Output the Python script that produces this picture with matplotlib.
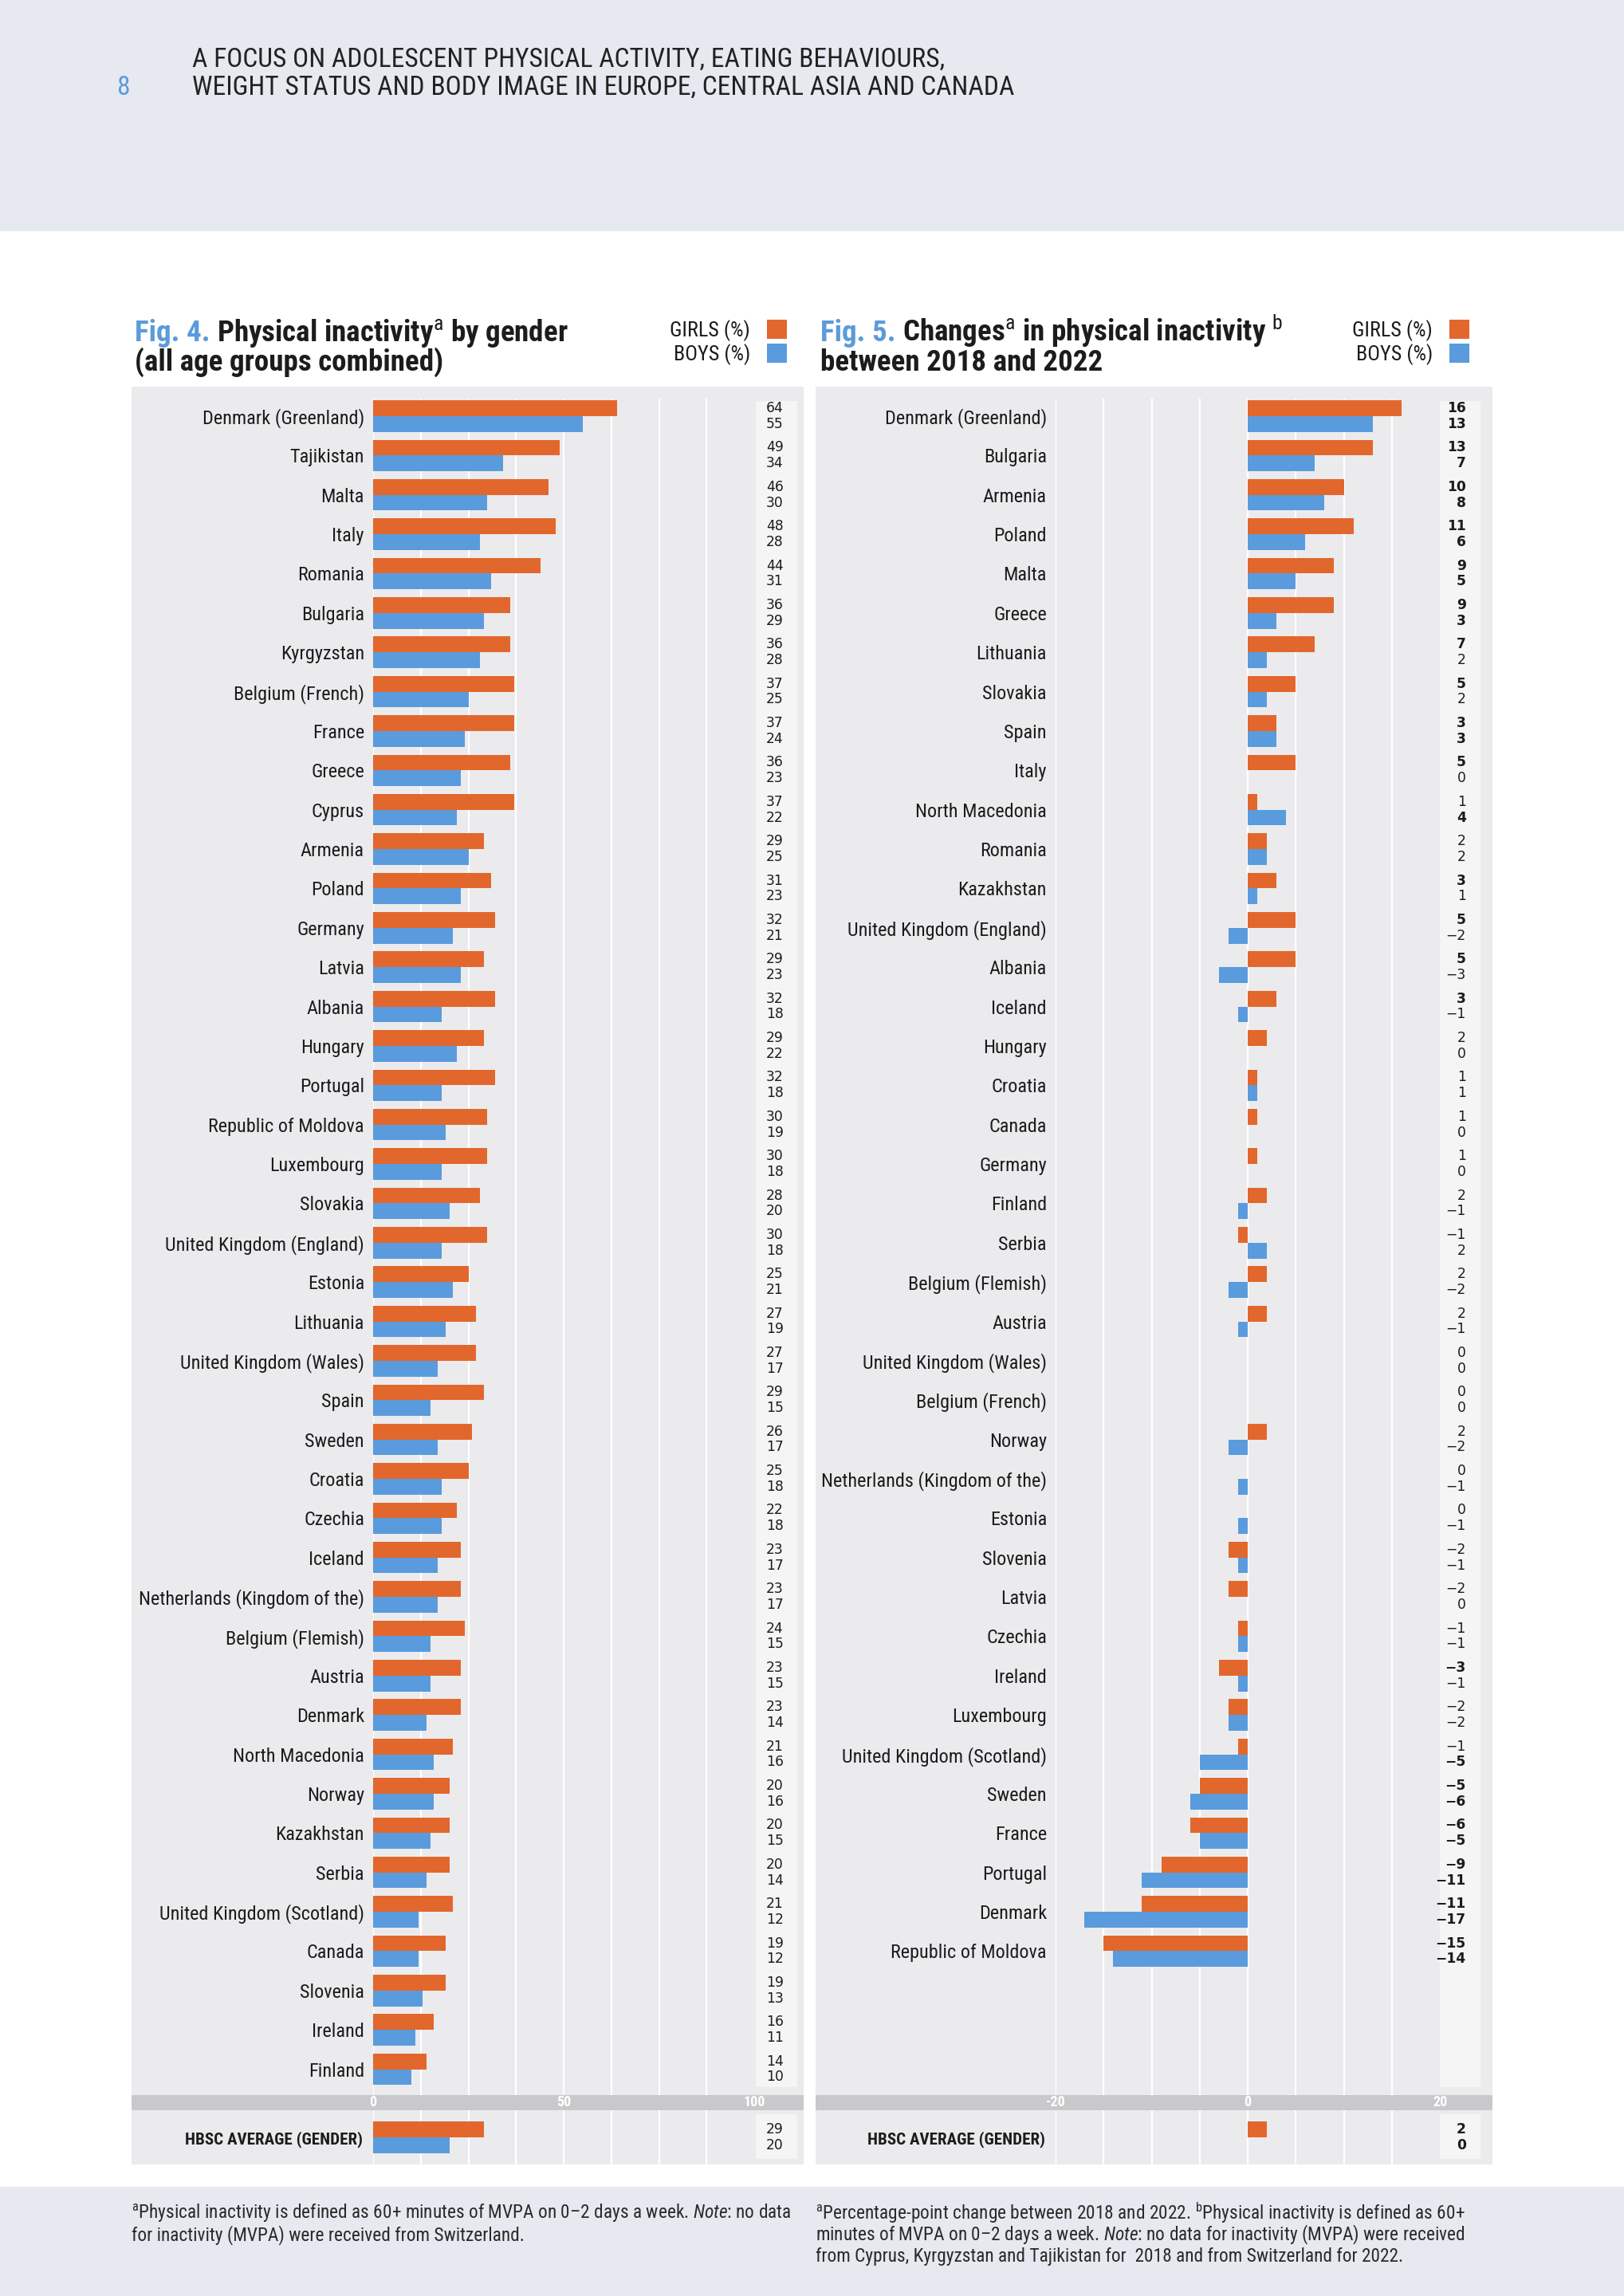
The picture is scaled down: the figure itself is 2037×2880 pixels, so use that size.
import numpy as np
import matplotlib.pyplot as plt
from matplotlib.patches import Rectangle
from matplotlib.transforms import blended_transform_factory
from matplotlib import font_manager as fm
from matplotlib.font_manager import FontProperties

W, H = 2037, 2880


def have(name):
    try:
        fm.findfont(name, fallback_to_default=False)
        return True
    except ValueError:
        return False


# narrowest family that is actually installed
COND = next((f for f in ['Liberation Sans Narrow', 'DejaVu Sans Condensed', 'Roboto Condensed',
                         'Lato', 'Roboto', 'Liberation Sans'] if have(f)), 'DejaVu Sans')
plt.rcParams['font.family'] = [COND, 'DejaVu Sans']
plt.rcParams['mathtext.fontset'] = 'custom'
plt.rcParams['mathtext.rm'] = COND
plt.rcParams['mathtext.it'] = COND + ':italic'
plt.rcParams['mathtext.bf'] = COND + ':bold'

ORANGE = '#e2672d'
BLUE = '#5a9bdd'
PANEL = '#ebebed'
BAND = '#c9c9cb'
VALBOX = '#f5f5f6'
PAGEBAND = '#e7e9f0'
TXT = '#1c1c1c'
FIGBLUE = '#5b9bd9'

# ---- Fig. 4 data: physical inactivity by gender (%)
countries4 = ['Denmark (Greenland)', 'Tajikistan', 'Malta', 'Italy', 'Romania', 'Bulgaria',
              'Kyrgyzstan', 'Belgium (French)', 'France', 'Greece', 'Cyprus', 'Armenia',
              'Poland', 'Germany', 'Latvia', 'Albania', 'Hungary', 'Portugal',
              'Republic of Moldova', 'Luxembourg', 'Slovakia', 'United Kingdom (England)',
              'Estonia', 'Lithuania', 'United Kingdom (Wales)', 'Spain', 'Sweden', 'Croatia',
              'Czechia', 'Iceland', 'Netherlands (Kingdom of the)', 'Belgium (Flemish)',
              'Austria', 'Denmark', 'North Macedonia', 'Norway', 'Kazakhstan', 'Serbia',
              'United Kingdom (Scotland)', 'Canada', 'Slovenia', 'Ireland', 'Finland']
girls4 = [64, 49, 46, 48, 44, 36, 36, 37, 37, 36, 37, 29, 31, 32, 29, 32, 29, 32, 30, 30,
          28, 30, 25, 27, 27, 29, 26, 25, 22, 23, 23, 24, 23, 23, 21, 20, 20, 20, 21, 19,
          19, 16, 14]
boys4 = [55, 34, 30, 28, 31, 29, 28, 25, 24, 23, 22, 25, 23, 21, 23, 18, 22, 18, 19, 18,
         20, 18, 21, 19, 17, 15, 17, 18, 18, 17, 17, 15, 15, 14, 16, 16, 15, 14, 12, 12,
         13, 11, 10]
avg4 = (29, 20)

# ---- Fig. 5 data: change 2018-2022 (percentage points), bold = significant
countries5 = ['Denmark (Greenland)', 'Bulgaria', 'Armenia', 'Poland', 'Malta', 'Greece',
              'Lithuania', 'Slovakia', 'Spain', 'Italy', 'North Macedonia', 'Romania',
              'Kazakhstan', 'United Kingdom (England)', 'Albania', 'Iceland', 'Hungary',
              'Croatia', 'Canada', 'Germany', 'Finland', 'Serbia', 'Belgium (Flemish)',
              'Austria', 'United Kingdom (Wales)', 'Belgium (French)', 'Norway',
              'Netherlands (Kingdom of the)', 'Estonia', 'Slovenia', 'Latvia', 'Czechia',
              'Ireland', 'Luxembourg', 'United Kingdom (Scotland)', 'Sweden', 'France',
              'Portugal', 'Denmark', 'Republic of Moldova']
girls5 = [16, 13, 10, 11, 9, 9, 7, 5, 3, 5, 1, 2, 3, 5, 5, 3, 2, 1, 1, 1, 2, -1, 2, 2,
          0, 0, 2, 0, 0, -2, -2, -1, -3, -2, -1, -5, -6, -9, -11, -15]
boys5 = [13, 7, 8, 6, 5, 3, 2, 2, 3, 0, 4, 2, 1, -2, -3, -1, 0, 1, 0, 0, -1, 2, -2, -1,
         0, 0, -2, -1, -1, -1, 0, -1, -1, -2, -5, -6, -5, -11, -17, -14]
girls5_bold = [1, 1, 1, 1, 1, 1, 1, 1, 1, 1, 0, 0, 1, 1, 1, 1, 0, 0, 0, 0, 0, 0, 0, 0,
               0, 0, 0, 0, 0, 0, 0, 0, 1, 0, 0, 1, 1, 1, 1, 1]
boys5_bold = [1, 1, 1, 1, 1, 1, 0, 0, 1, 0, 1, 0, 0, 0, 0, 0, 0, 0, 0, 0, 0, 0, 0, 0,
              0, 0, 0, 0, 0, 0, 0, 0, 0, 0, 1, 1, 1, 1, 1, 1]
avg5 = (2, 0)

fig = plt.figure(figsize=(W / 100, H / 100), dpi=100)
fig.patch.set_facecolor('white')
renderer = fig.canvas.get_renderer()


def fit(s, target, weight='normal'):
    """font size (pt) that makes s about target pixels wide"""
    prop = FontProperties(family=[COND, 'DejaVu Sans'], weight=weight, size=20)
    w, _, _ = renderer.get_text_width_height_descent(s, prop, ismath='$' in s)
    return 20 * target / w


def box(x0, y0, x1, y1, color):
    fig.patches.append(Rectangle((x0 / W, 1 - y1 / H), (x1 - x0) / W, (y1 - y0) / H,
                                 transform=fig.transFigure, facecolor=color,
                                 edgecolor='none', zorder=-5))


def ax_at(x0, y0, x1, y1):
    a = fig.add_axes([x0 / W, 1 - y1 / H, (x1 - x0) / W, (y1 - y0) / H])
    a.set_facecolor('none')
    for s in a.spines.values():
        s.set_visible(False)
    return a


def fmt(v):
    return str(v).replace('-', '\u2212')


ROW = 49.37
TOP, FIRST, BOTTOM = 500, 522, 2628
LAB = 1.03 * min(fit('Denmark (Greenland)', 200), fit('Netherlands (Kingdom of the)', 274))
AVGLAB = fit('HBSC AVERAGE (GENDER)', 222, 'bold')
VAL = 12.3


def panel(left, right, zx0, zx1, xlim, grid, ticks, names, g, b, gb, bb, avg, avg_bold,
          val_x, vbox):
    box(left, 485, right, BOTTOM, PANEL)
    box(left, BOTTOM, right, 2647, BAND)
    box(left, 2647, right, 2715, PANEL)
    box(vbox[0], 503, vbox[1], 2618, VALBOX)
    box(vbox[0], 2652, vbox[1], 2708, VALBOX)

    ax = ax_at(zx0, TOP, zx1, BOTTOM)
    y = np.arange(len(names))
    hg = ax.barh(y - 0.2, g, height=0.4, color=ORANGE, zorder=3)
    hb = ax.barh(y + 0.2, b, height=0.4, color=BLUE, zorder=3)
    ax.set_xlim(*xlim)
    ax.set_ylim((BOTTOM - FIRST) / ROW, -(FIRST - TOP) / ROW)
    ax.set_xticks(grid)
    ax.grid(axis='x', color='white', lw=1.6)
    ax.set_axisbelow(True)
    ax.tick_params(axis='x', length=0, labelbottom=False)
    ax.set_yticks(y, names, fontsize=LAB, color=TXT)
    ax.tick_params(axis='y', length=0, pad=8)
    tr = blended_transform_factory(ax.transAxes, ax.transData)
    for i in range(len(names)):
        ax.text(val_x, i - 0.2, fmt(g[i]), transform=tr, ha='right', va='center',
                fontsize=VAL, family='DejaVu Sans', color=TXT,
                fontweight='bold' if gb[i] else 'normal', clip_on=False)
        ax.text(val_x, i + 0.2, fmt(b[i]), transform=tr, ha='right', va='center',
                fontsize=VAL, family='DejaVu Sans', color=TXT,
                fontweight='bold' if bb[i] else 'normal', clip_on=False)

    # axis band with tick values
    axb = ax_at(zx0, BOTTOM, zx1, 2647)
    axb.set_xlim(*xlim)
    axb.set_xticks([])
    axb.set_yticks([])
    for t in ticks:
        axb.text(t, 0.5, str(t), transform=axb.get_xaxis_transform(), ha='center',
                 va='center', color='white', fontweight='bold', fontsize=13)

    # HBSC average row
    axa = ax_at(zx0, 2647, zx1, 2715)
    span = 68 / ROW
    axa.barh([-0.2], [avg[0]], height=0.4, color=ORANGE, zorder=3)
    axa.barh([0.2], [avg[1]], height=0.4, color=BLUE, zorder=3)
    axa.set_xlim(*xlim)
    axa.set_ylim(span / 2, -span / 2)
    axa.set_xticks(grid)
    axa.grid(axis='x', color='white', lw=1.6)
    axa.set_axisbelow(True)
    axa.tick_params(axis='x', length=0, labelbottom=False)
    axa.set_yticks([0], ['HBSC AVERAGE (GENDER)'], fontsize=AVGLAB, fontweight='bold',
                   color=TXT)
    axa.tick_params(axis='y', length=0, pad=9)
    tra = blended_transform_factory(axa.transAxes, axa.transData)
    for k, off in ((0, -0.2), (1, 0.2)):
        axa.text(val_x, off, fmt(avg[k]), transform=tra, ha='right', va='center',
                 fontsize=VAL, family='DejaVu Sans', color=TXT,
                 fontweight='bold' if avg_bold[k] else 'normal', clip_on=False)
    return hg, hb


h4 = panel(165, 1008, 468, 946, (0, 100), np.arange(0, 100, 12.5), [0, 50, 100],
           countries4, girls4, boys4, [0] * len(girls4), [0] * len(boys4), avg4, (0, 0),
           1.077, (948, 1000))
h5 = panel(1023, 1872, 1324, 1806, (-20, 20), np.arange(-20, 20, 5), [-20, 0, 20],
           countries5, girls5, boys5, girls5_bold, boys5_bold, avg5, (1, 1),
           1.068, (1806, 1857))

LEG = fit('GIRLS (%)', 101)
for (hg, hb), xr in ((h4, 987), (h5, 1843)):
    fig.legend([hg, hb], ['GIRLS (%)', 'BOYS (%)'], loc='upper right',
               bbox_to_anchor=(xr / W, 1 - 401 / H), markerfirst=False, frameon=False,
               fontsize=LEG, handlelength=25 / (LEG * 100 / 72),
               handleheight=27 / (LEG * 100 / 72), handletextpad=0.8,
               labelspacing=0.12, borderpad=0, borderaxespad=0, labelcolor=TXT)


def runs(x, y, parts, size):
    for txt, color in parts:
        t = fig.text(x / W, 1 - y / H, txt, fontsize=size, color=color,
                     fontweight='bold', va='baseline', ha='left')
        x += t.get_window_extent(renderer).width + size * 0.3


TITLE = fit(r'Fig. 4. Physical inactivity${}^{\mathrm{a}}$ by gender', 544, 'bold')
runs(169, 428, [('Fig. 4.', FIGBLUE), (r'Physical inactivity${}^{\mathrm{a}}$ by gender', TXT)], TITLE)
runs(169, 465, [('(all age groups combined)', TXT)], TITLE)
runs(1029, 428, [('Fig. 5.', FIGBLUE), (r'Changes${}^{\mathrm{a}}$ in physical inactivity ${}^{\mathrm{b}}$', TXT)], TITLE)
runs(1029, 465, [('between 2018 and 2022', TXT)], TITLE)

# page header
box(0, 0, W, 290, PAGEBAND)
HEAD = fit('WEIGHT STATUS AND BODY IMAGE IN EUROPE, CENTRAL ASIA AND CANADA', 1028)
fig.text(154 / W, 1 - 110 / H, '8', fontsize=HEAD, color=FIGBLUE, ha='center', va='center')
fig.text(241 / W, 1 - 75 / H, 'A FOCUS ON ADOLESCENT PHYSICAL ACTIVITY, EATING BEHAVIOURS,',
         fontsize=HEAD, color='#222222', va='center')
fig.text(241 / W, 1 - 110 / H, 'WEIGHT STATUS AND BODY IMAGE IN EUROPE, CENTRAL ASIA AND CANADA',
         fontsize=HEAD, color='#222222', va='center')

# page footer with notes
box(0, 2743, W, H, PAGEBAND)
note1 = [r'${}^{\mathrm{a}}$Physical inactivity is defined as 60+ minutes of MVPA on 0–2 days a week. $\mathit{Note}$: no data',
         'for inactivity (MVPA) were received from Switzerland.']
note2 = [r'${}^{\mathrm{a}}$Percentage-point change between 2018 and 2022. ${}^{\mathrm{b}}$Physical inactivity is defined as 60+',
         r'minutes of MVPA on 0–2 days a week. $\mathit{Note}$: no data for inactivity (MVPA) were received',
         'from Cyprus, Kyrgyzstan and Tajikistan for  2018 and from Switzerland for 2022.']
NOTE = min(fit(note1[0], 838), fit(note2[1], 814), fit(note2[0], 840))
for x0, lines in ((165, note1), (1023, note2)):
    for k, line in enumerate(lines):
        fig.text(x0 / W, 1 - (2776 + 27.5 * k) / H, line, fontsize=NOTE, color='#2a2a2a',
                 va='center', ha='left')

fig.savefig('out.png', dpi=100)
